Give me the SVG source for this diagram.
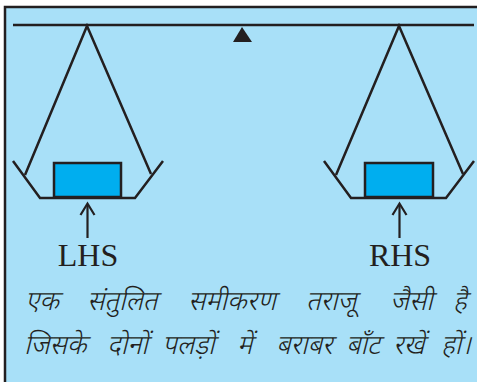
<svg xmlns="http://www.w3.org/2000/svg" width="477" height="382" viewBox="0 0 477 382">
<defs>
<style>
.ln{fill:none;stroke:#231f20;stroke-width:2.5;stroke-linejoin:miter}
.box{fill:#00aeef;stroke:#231f20;stroke-width:2.5}
.lbl{font-family:"Liberation Serif","Times New Roman",serif;font-size:32px;fill:#231f20;text-anchor:middle}
.hi{font-family:"Noto Sans Devanagari","Noto Sans","Lohit Devanagari",sans-serif;font-size:27px;font-weight:300;font-style:italic;fill:#231f20}
.arr{fill:none;stroke:#231f20;stroke-width:2.2}
</style>
</defs>
<rect x="0" y="0" width="477" height="382" fill="#ffffff"/>
<rect x="5" y="7" width="490" height="400" fill="#a8e0f8" stroke="#231f20" stroke-width="2.5"/>
<g id="beam">
<line class="ln" x1="13" y1="25" x2="474" y2="25"/>
<polygon points="233,42 242,27 252,42" fill="#231f20"/>
</g>
<g id="left-pan">
<polyline class="ln" points="25,175 87,26 151,174"/>
<polyline class="ln" points="13,161 40,198 135,198 163,161"/>
<rect class="box" x="54" y="163" width="67" height="34"/>
</g>
<g id="right-pan">
<polyline class="ln" points="336,175 399,26 463,174"/>
<polyline class="ln" points="324,161 351,198 446,198 474,161"/>
<rect class="box" x="365" y="163" width="68" height="34"/>
</g>
<g id="connectors">
<line class="arr" x1="87.5" y1="204" x2="87.5" y2="238"/>
<polyline class="arr" points="80.5,215 87.5,203.5 94.5,215"/>
<line class="arr" x1="399.5" y1="204" x2="399.5" y2="238"/>
<polyline class="arr" points="392.5,215 399.5,203.5 406.5,215"/>
</g>
<g id="lhs"><text class="lbl" x="88" y="266">LHS</text></g>
<g id="rhs"><text class="lbl" x="400" y="266">RHS</text></g>
<g id="caption">
<text class="hi" y="310"><tspan x="25">एक</tspan> <tspan x="87">संतुलित</tspan> <tspan x="188">समीकरण</tspan> <tspan x="306">तराजू</tspan> <tspan x="390">जैसी</tspan> <tspan x="453">है</tspan></text>
<text class="hi" y="354"><tspan x="24">जिसके</tspan> <tspan x="107">दोनों</tspan> <tspan x="162">पलड़ों</tspan> <tspan x="237">में</tspan> <tspan x="276">बराबर</tspan> <tspan x="346">बाँट</tspan> <tspan x="393">रखें</tspan> <tspan x="441">हों।</tspan></text>
</g>
</svg>
